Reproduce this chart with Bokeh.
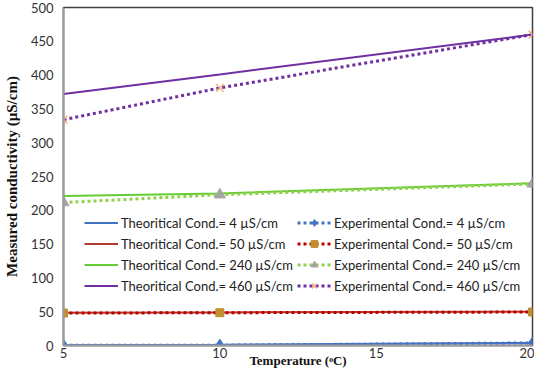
from bokeh.plotting import figure
from bokeh.models import Legend, LegendItem, FixedTicker, Range1d
from bokeh.embed import file_html
from bokeh.resources import INLINE

temps = [5, 10, 20]

theo_4 = [0.3, 1.2, 3.8]
theo_50 = [48.5, 49.0, 50.0]
theo_240 = [221, 225, 240]
theo_460 = [372, 401, 460]

exp_4 = [0.3, 0.4, 3.8]
exp_50 = [48.0, 48.5, 49.5]
exp_240 = [211.5, 223, 239]
exp_460 = [334, 381, 460]

x_ticks = [5, 10, 15, 20]
y_ticks = [0, 50, 100, 150, 200, 250, 300, 350, 400, 450, 500]

p = figure(width=534, height=370, output_backend="svg", toolbar_location=None,
           x_range=Range1d(5, 20), y_range=Range1d(0, 500),
           min_border_top=7, min_border_right=2, min_border_left=8, min_border_bottom=0)

p.xgrid.visible = False
p.ygrid.visible = False
p.outline_line_color = "#404040"
p.outline_line_width = 1.5

for ax in (p.xaxis[0], p.yaxis[0]):
    ax.major_tick_line_color = None
    ax.minor_tick_line_color = None
    ax.major_tick_out = 0
    ax.major_tick_in = 0
    ax.minor_tick_out = 0
    ax.minor_tick_in = 0
    ax.major_label_text_font = "Lato"
    ax.major_label_text_font_size = "13px"
    ax.major_label_text_color = "#333333"
    ax.axis_label_text_font = "Liberation Serif"
    ax.axis_label_text_font_style = "bold"
    ax.axis_label_text_font_size = "13px"
    ax.axis_label_text_color = "#111111"
    ax.axis_line_color = "#9a9a9a"
    ax.axis_line_width = 2

p.xaxis.ticker = FixedTicker(ticks=x_ticks)
p.yaxis.ticker = FixedTicker(ticks=y_ticks)
p.xaxis.axis_label = "Temperature (\u1d52C)"
p.yaxis.axis_label = "Measured conductivity (\u00b5S/cm)"
p.yaxis.axis_label_text_font_size = "15px"
p.xaxis.major_label_standoff = 2
p.xaxis.axis_label_standoff = -8
p.yaxis.major_label_standoff = 10
p.yaxis.axis_label_standoff = 8

c_blue = "#4472C4"
c_red = "#B03A2E"
c_green = "#66CC33"
c_purple = "#7030A0"

t1 = p.line(temps, theo_4, line_color=c_blue, line_width=2)
t2 = p.line(temps, theo_50, line_color=c_red, line_width=2)
t3 = p.line(temps, theo_240, line_color=c_green, line_width=2)
t4 = p.line(temps, theo_460, line_color=c_purple, line_width=2)

e1l = p.line(temps, exp_4, line_color=c_blue, line_width=3, line_dash="3 3")
e1m = p.scatter(temps, exp_4, marker="diamond", size=12, fill_color=c_blue, line_color=c_blue)
e2l = p.line(temps, exp_50, line_color="#C00000", line_width=3, line_dash="3 3")
e2m = p.scatter(temps, exp_50, marker="square", size=8, fill_color="#C09030", line_color="#C09030")
e3l = p.line(temps, exp_240, line_color="#92D050", line_width=3, line_dash="3 3")
e3m = p.scatter(temps, exp_240, marker="triangle", size=11, fill_color="#A5A5A5", line_color="#A5A5A5")
e4l = p.line(temps, exp_460, line_color=c_purple, line_width=3, line_dash="3 3")
e4m = p.scatter(temps, exp_460, marker="x", size=11, line_color="#F4B183", line_width=1.5)

items = [
    LegendItem(label="Theoritical Cond.= 4 \u00b5S/cm", renderers=[t1]),
    LegendItem(label="Theoritical Cond.= 50 \u00b5S/cm", renderers=[t2]),
    LegendItem(label="Theoritical Cond.= 240 \u00b5S/cm", renderers=[t3]),
    LegendItem(label="Theoritical Cond.= 460 \u00b5S/cm", renderers=[t4]),
    LegendItem(label="Experimental Cond.= 4 \u00b5S/cm", renderers=[e1l, e1m]),
    LegendItem(label="Experimental Cond.= 50 \u00b5S/cm", renderers=[e2l, e2m]),
    LegendItem(label="Experimental Cond.= 240 \u00b5S/cm", renderers=[e3l, e3m]),
    LegendItem(label="Experimental Cond.= 460 \u00b5S/cm", renderers=[e4l, e4m]),
]
legend = Legend(items=items, ncols=2, location=(21, 51),
                label_text_font="Lato", label_text_font_size="13px", label_text_color="#222222",
                glyph_width=34, glyph_height=17, label_standoff=3, spacing=4,
                border_line_color=None, background_fill_alpha=0,
                padding=2, margin=0, label_height=17, label_width=154)
p.add_layout(legend, "center")

open("out.html", "w").write(file_html(p, INLINE))
